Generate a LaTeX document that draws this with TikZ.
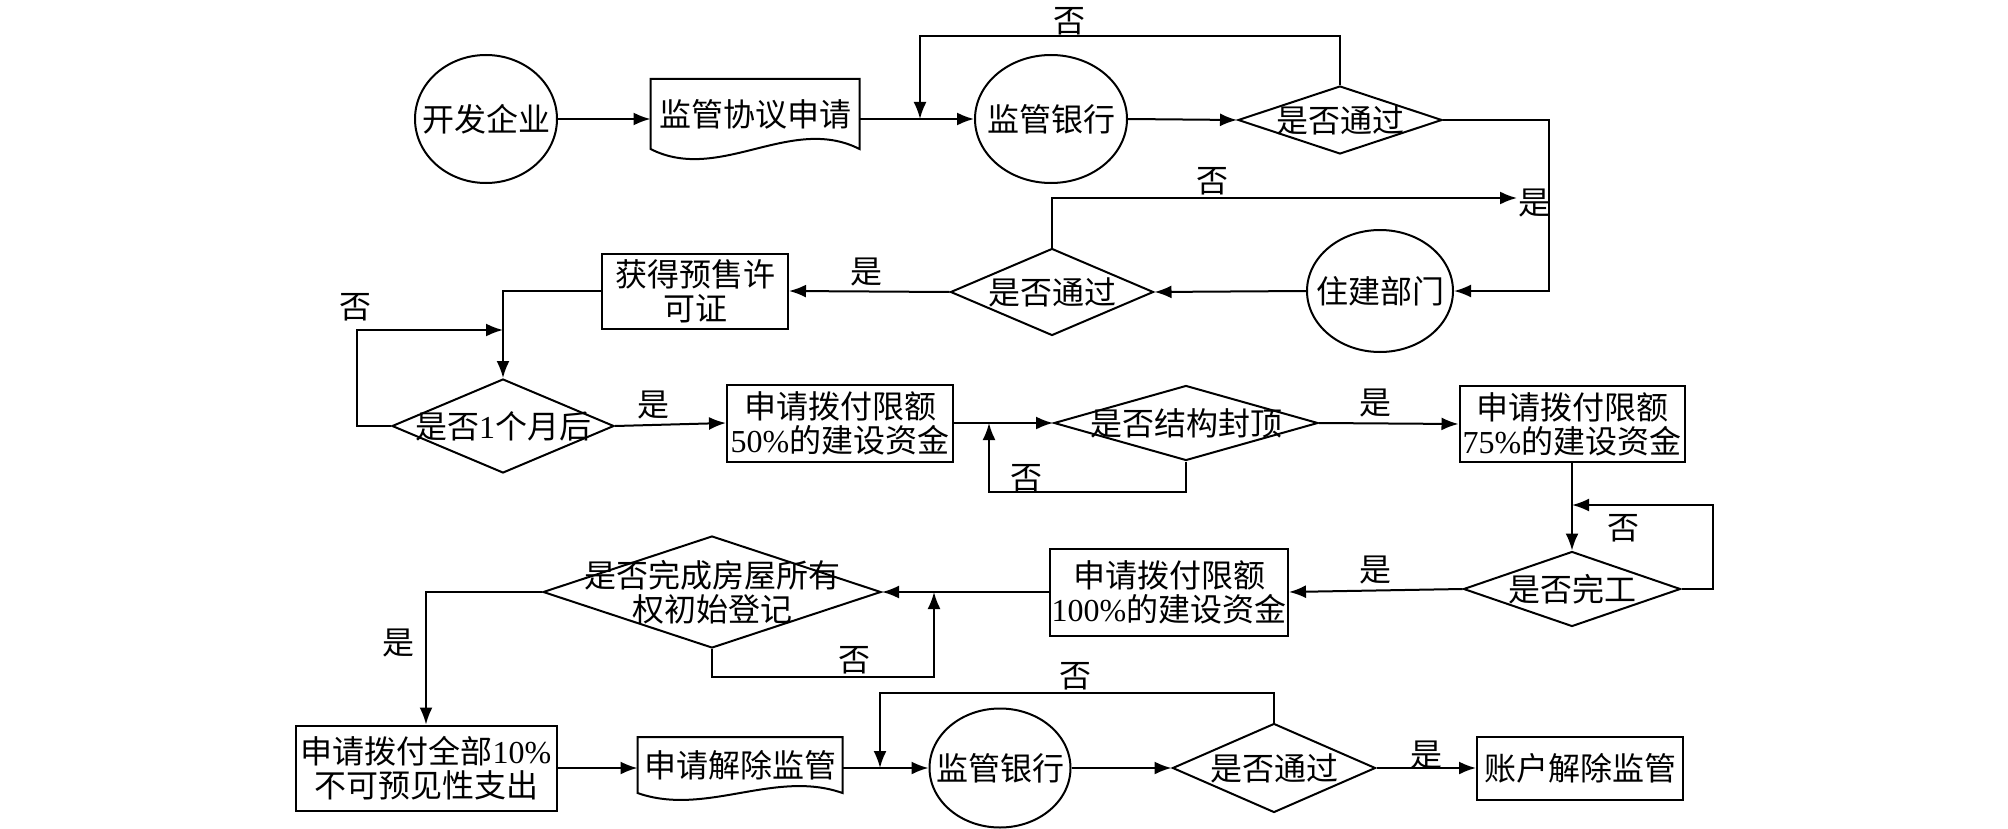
\documentclass[tikz,border=0pt]{standalone}
\usepackage{fontspec}
\setmainfont{Liberation Serif}
\newfontfamily\cjk{Noto Sans CJK SC}
\usetikzlibrary{shapes.geometric,arrows.meta,calc}
\begin{document}
\begin{tikzpicture}[x=0.5pt,y=-0.5pt,
  font=\cjk\fontsize{16}{17}\selectfont,
  line width=1pt,
  arr/.style={-{Latex[length=8.5pt,width=6.5pt]}},
  ell/.style={draw,ellipse,inner sep=0pt},
  dia/.style={draw,diamond,inner sep=0pt},
  box/.style={draw,rectangle,inner sep=0pt,align=center},
  doc/.style={rectangle,inner sep=0pt},
  lab/.style={inner sep=0pt}]
\useasboundingbox (0,0) rectangle (2008,829);

% ---- nodes ----
\node[ell,minimum width=71pt,minimum height=64pt,label=center:开发企业] (e1) at (486,119) {};
\node[doc,minimum width=103.5pt,minimum height=34pt] (doc1) at (755,114) {监管协议申请};
\draw (doc1.north west) -- (doc1.north east) -- (doc1.south east)
  .. controls ($(doc1.south east)+(-69,-35)$) and ($(doc1.south west)+(69,35)$) .. (doc1.south west) -- cycle;
\node[ell,minimum width=76pt,minimum height=64pt,label=center:监管银行] (e2) at (1051,119) {};
\node[dia,minimum width=102pt,minimum height=34pt,label=center:是否通过] (d1) at (1340,120) {};
\node[ell,minimum width=73pt,minimum height=61pt,label=center:住建部门] (e3) at (1380,291) {};
\node[dia,minimum width=101.5pt,minimum height=43.5pt,label=center:是否通过] (d2) at (1052,292) {};
\node[box,minimum width=93pt,minimum height=37.5pt] (b1) at (695,291) {获得预售许\\可证};
\node[dia,minimum width=111pt,minimum height=47pt,label={center:是否{\rmfamily 1}个月后}] (d3) at (503,426) {};
\node[box,minimum width=113pt,minimum height=38.5pt] (b2) at (840,423) {申请拨付限额\\{\rmfamily 50\%}的建设资金};
\node[dia,minimum width=132pt,minimum height=37.5pt,label=center:是否结构封顶] (d4) at (1186,423) {};
\node[box,minimum width=112.5pt,minimum height=38pt] (b3) at (1572,424) {申请拨付限额\\{\rmfamily 75\%}的建设资金};
\node[dia,minimum width=108.5pt,minimum height=37.5pt,label=center:是否完工] (d5) at (1572,589) {};
\node[box,minimum width=119pt,minimum height=43.5pt] (b4) at (1169,592) {申请拨付限额\\{\rmfamily 100\%}的建设资金};
\node[dia,minimum width=169pt,minimum height=56pt,label={[align=center]center:{是否完成房屋所有\\权初始登记}}] (d6) at (712,592) {};
\node[box,minimum width=130.5pt,minimum height=42.5pt] (b5) at (426,768) {申请拨付全部{\rmfamily 10\%}\\不可预见性支出};
\node[doc,minimum width=101.5pt,minimum height=27pt] (doc2) at (740,765) {申请解除监管};
\draw (doc2.north west) -- (doc2.north east) -- (doc2.south east)
  .. controls ($(doc2.south east)+(-68,-24)$) and ($(doc2.south west)+(68,24)$) .. (doc2.south west) -- cycle;
\node[ell,minimum width=70.5pt,minimum height=59.5pt,label=center:监管银行] (e4) at (1000,768) {};
\node[dia,minimum width=101.5pt,minimum height=44.5pt,label=center:是否通过] (d7) at (1274,768) {};
\node[box,minimum width=103pt,minimum height=31.5pt] (b6) at (1580,768) {账户解除监管};

% ---- helper coordinates ----
\coordinate (t1) at (920,36);
\coordinate (j1) at (920,119);
\coordinate (c1) at (1549,291);
\coordinate (c2) at (1517,198);
\coordinate (c3) at (357,330);
\coordinate (j3) at (503,330);
\coordinate (c4) at (989,492);
\coordinate (j4) at (989,423);
\coordinate (c5) at (1713,505);
\coordinate (j5) at (1572,505);
\coordinate (c6) at (934,677);
\coordinate (j6) at (934,592);
\coordinate (t7) at (880,693);
\coordinate (j7) at (880,768);

% ---- connectors ----
\draw[arr] (e1.east) -- (e1.east -| doc1.west);
\draw[arr] (e2.west -| doc1.east) -- (e2.west);
\draw[arr] (e2.east) -- (d1.west);
\draw[arr] (d1.north) -- (d1.north |- t1) -| (j1);
\draw[arr] (d1.east) -| (c1) -- (e3.east);
\draw[arr] (e3.west) -- (d2.east);
\draw[arr] (d2.north) |- (c2);
\draw[arr] (d2.west) -- (b1.east);
\draw[arr] (b1.west) -| (d3.north);
\draw[arr] (d3.west) -| (c3) -- (j3);
\draw[arr] (d3.east) -- (b2.west);
\draw[arr] (b2.east) -- (d4.west);
\draw[arr] (d4.south) |- (c4) -- (j4);
\draw[arr] (d4.east) -- (b3.west);
\draw[arr] (b3.south) -- (d5.north);
\draw[arr] (d5.east) -| (c5) -- (j5);
\draw[arr] (d5.west) -- (b4.east);
\draw[arr] (b4.west) -- (d6.east);
\draw[arr] (d6.south) |- (c6) -- (j6);
\draw[arr] (d6.west) -| (b5.north);
\draw[arr] (b5.east) -- (b5.east -| doc2.west);
\draw[arr] (e4.west -| doc2.east) -- (e4.west);
\draw[arr] (d7.north) -- (d7.north |- t7) -| (j7);
\draw[arr] (e4.east) -- (d7.west);
\draw[arr] (d7.east) -- (b6.west);

% ---- labels ----
\node[lab] (l1) at (1069,21) {否};
\node[lab] (l2) at (1534,203) {是};
\node[lab] (l3) at (1212,181) {否};
\node[lab] (l4) at (866,272) {是};
\node[lab] (l5) at (355,307) {否};
\node[lab] (l6) at (653,405) {是};
\node[lab] (l7) at (1026,478) {否};
\node[lab] (l8) at (1375,403) {是};
\node[lab] (l9) at (1623,528) {否};
\node[lab] (l10) at (1375,570) {是};
\node[lab] (l11) at (854,660) {否};
\node[lab] (l12) at (398,643) {是};
\node[lab] (l13) at (1075,676) {否};
\node[lab] (l14) at (1426,755) {是};
\end{tikzpicture}
\end{document}
